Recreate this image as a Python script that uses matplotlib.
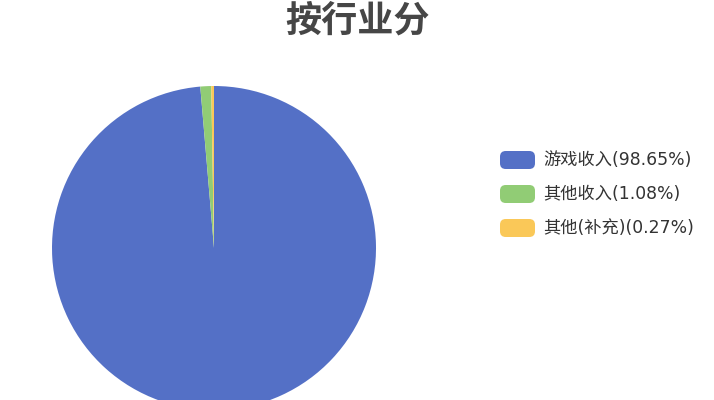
import matplotlib
matplotlib.use('Agg')
import matplotlib.pyplot as plt
from matplotlib.patches import FancyBboxPatch

plt.rcParams['font.family'] = ['Noto Sans CJK SC', 'DejaVu Sans']

# 数据
categorias = ['游戏收入', '其他收入', '其他(补充)']
percentagens = [98.65, 1.08, 0.27]
cores = ['#5470c6', '#91cc75', '#fac858']
titulo = '按行业分'

W, H = 714, 400
fig = plt.figure(figsize=(W / 100, H / 100), dpi=100)
fig.patch.set_facecolor('white')

# Pie: centro (214, 248) px, raio 162 px
cx, cy, r = 214, 248, 162
ax = fig.add_axes([(cx - r) / W, (H - cy - r) / H, 2 * r / W, 2 * r / H])
ax.pie(percentagens, colors=cores, startangle=90, counterclock=False,
       radius=1, wedgeprops=dict(linewidth=0))
ax.set_xlim(-1, 1)
ax.set_ylim(-1, 1)
ax.axis('off')

# Título
fig.text(358 / W, 1 - 21 / H, titulo, ha='center', va='center',
         fontsize=26, fontweight='bold', color='#464646')

# Legenda
y0, passo = 160, 34
for i, (cat, pct, cor) in enumerate(zip(categorias, percentagens, cores)):
    yc = y0 + i * passo
    caixa = FancyBboxPatch((500 / W, 1 - (yc + 9) / H), 35 / W, 18 / H,
                           boxstyle='round,pad=0,rounding_size=0.008',
                           transform=fig.transFigure, facecolor=cor,
                           edgecolor='none', mutation_aspect=W / H)
    fig.patches.append(caixa)
    fig.text(543 / W, 1 - yc / H, f'{cat}({pct:.2f}%)', ha='left',
             va='center', fontsize=12.4, color='#333333',
             family=['DejaVu Sans', 'Noto Sans CJK SC'])

fig.savefig('out.png', dpi=100)
